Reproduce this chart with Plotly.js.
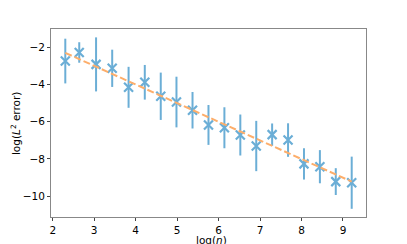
<!DOCTYPE html>
<html>
<head>
<meta charset="utf-8">
<script src="https://cdn.plot.ly/plotly-3.0.1.min.js"></script>
<style>
  body { margin: 0; background: #fff; }
  #chart { width: 407px; height: 244px; }
</style>
</head>
<body>
<div id="chart"></div>
<script>
// log(n) for n = 10 ... 10000
var logN = [2.303, 2.639, 3.045, 3.434, 3.829, 4.220, 4.605, 4.984, 5.371,
            5.756, 6.140, 6.524, 6.908, 7.291, 7.675, 8.059, 8.443, 8.826, 9.210]
// mean log error and its spread
var logErr = [-2.75, -2.29, -2.93, -3.14, -4.16, -3.89, -4.64, -4.95, -5.39,
              -6.18, -6.33, -6.72, -7.31, -6.70, -6.99, -8.27, -8.42, -9.22, -9.28]
var errBar = [1.20, 0.55, 1.45, 1.00, 1.10, 0.93, 1.27, 1.36, 0.98,
              1.07, 1.10, 1.10, 1.35, 0.60, 0.90, 0.84, 0.89, 0.72, 1.40]
// fitted line
var fitX = [2.303, 9.210]
var fitY = [-2.31, -9.22]

var blue = '#6baed6'
var orange = '#fdae6b'

var points = {
    x: logN,
    y: logErr,
    type: 'scatter',
    mode: 'markers',
    marker: {symbol: 'x-thin', size: 9, color: blue, line: {color: blue, width: 2.2}},
    error_y: {type: 'data', array: errBar, visible: true, color: blue, thickness: 2, width: 0},
    showlegend: false
}

var fit = {
    x: fitX,
    y: fitY,
    type: 'scatter',
    mode: 'lines',
    line: {color: orange, width: 2, dash: '7px,3px'},
    showlegend: false
}

var axisFont = {family: 'DejaVu Sans', size: 10.5, color: '#000'}

var layout = {
    width: 407,
    height: 244,
    margin: {l: 51, r: 41, t: 29, b: 27},
    paper_bgcolor: '#fff',
    plot_bgcolor: '#fff',
    font: axisFont,
    xaxis: {
        range: [1.958, 9.555],
        tickvals: [2, 3, 4, 5, 6, 7, 8, 9],
        ticks: 'outside', ticklen: 3, tickwidth: 1, tickcolor: '#444',
        showgrid: false, zeroline: false,
        showline: true, mirror: true, linecolor: '#888', linewidth: 1,
        tickfont: axisFont
    },
    yaxis: {
        range: [-11.12, -1.03],
        tickvals: [-10, -8, -6, -4, -2],
        ticktext: ['\u221210', '\u22128', '\u22126', '\u22124', '\u22122'],
        ticks: 'outside', ticklen: 3, tickwidth: 1, tickcolor: '#444',
        showgrid: false, zeroline: false,
        showline: true, mirror: true, linecolor: '#888', linewidth: 1,
        tickfont: axisFont
    },
    // axis titles as annotations so they sit where the reference has them
    annotations: [
        {text: 'log(<i>n</i>)', xref: 'paper', yref: 'paper', x: 0.51, y: -0.122,
         xanchor: 'center', yanchor: 'middle', showarrow: false, font: axisFont},
        {text: 'log(<i>L</i><sup>2</sup> error)', xref: 'paper', yref: 'paper', x: -0.114, y: 0.5,
         xanchor: 'center', yanchor: 'middle', textangle: -90, showarrow: false, font: axisFont}
    ]
}

Plotly.newPlot('chart', [points, fit], layout, {staticPlot: true})
</script>
</body>
</html>
